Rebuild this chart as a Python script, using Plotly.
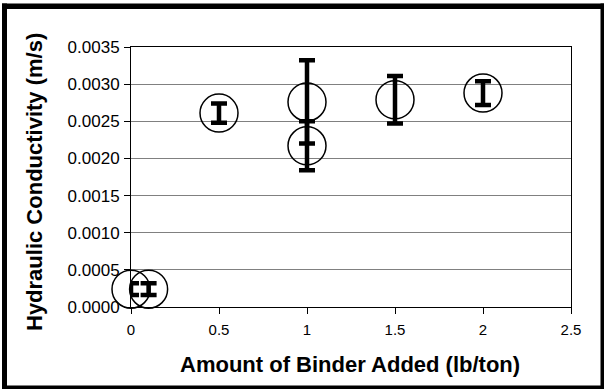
import plotly.graph_objects as go

# Data
binder = [0, 0.1, 0.5, 1, 1, 1.5, 2]
conductivity = [0.00024, 0.00024, 0.00261, 0.00276, 0.00217, 0.00279, 0.00288]
conductivity_err = [0.00008, 0.00008, 0.00013, 0.00056, 0.00033, 0.00032, 0.00016]
x_ticks = [0, 0.5, 1, 1.5, 2, 2.5]
x_tick_labels = ["0", "0.5", "1", "1.5", "2", "2.5"]
y_ticks = [0, 0.0005, 0.001, 0.0015, 0.002, 0.0025, 0.003, 0.0035]
y_tick_labels = ["0.0000", "0.0005", "0.0010", "0.0015", "0.0020", "0.0025", "0.0030", "0.0035"]

W, H = 605, 389
L, R, T, B = 131, 34, 47, 82
PW, PH = W - L - R, H - T - B


def px(x):
    return (x - L) / PW


def py(y):
    return (H - B - y) / PH


FONT = "Liberation Sans, Arial, sans-serif"

fig = go.Figure()
fig.add_trace(go.Scatter(
    x=binder, y=conductivity, mode="markers",
    marker=dict(symbol="circle-open", size=38, color="black", line=dict(width=1.5, color="black")),
    error_y=dict(type="data", array=conductivity_err, visible=True, color="black", thickness=4.5, width=8),
    cliponaxis=False, showlegend=False,
))

shapes = []
for (x0, x1, y0, y1) in [(2, 604, 3.5, 9), (2, 7, 3.5, 389), (600.5, 604, 3.5, 389), (2, 604, 385.5, 389)]:
    shapes.append(dict(type="rect", xref="paper", yref="paper", x0=px(x0), x1=px(x1), y0=py(y1), y1=py(y0),
                       fillcolor="black", line=dict(width=0), layer="above"))

fig.update_layout(
    width=W, height=H,
    margin=dict(l=L, r=R, t=T, b=B),
    paper_bgcolor="white", plot_bgcolor="white",
    font=dict(family=FONT, color="black"),
    shapes=shapes,
    annotations=[
        dict(text="Amount of Binder Added (lb/ton)", xref="paper", yref="paper", x=px(350), y=py(364),
             xanchor="center", yanchor="middle", showarrow=False,
             font=dict(family=FONT, size=22, weight="bold", color="black")),
        dict(text="Hydraulic Conductivity (m/s)", xref="paper", yref="paper", x=px(35), y=py(182),
             xanchor="center", yanchor="middle", showarrow=False, textangle=-90,
             font=dict(family=FONT, size=22, weight="bold", color="black")),
    ],
    xaxis=dict(range=[0, 2.5], tickvals=x_ticks, ticktext=x_tick_labels, showgrid=False, zeroline=False,
               showline=True, linecolor="black", linewidth=1, mirror=True,
               ticks="outside", ticklen=6, tickcolor="black", tickwidth=1,
               tickfont=dict(family=FONT, size=15, color="black"), ticklabelstandoff=3),
    yaxis=dict(range=[0, 0.0035], tickvals=y_ticks, ticktext=y_tick_labels, showgrid=True, gridcolor="#808080",
               gridwidth=1, zeroline=False, showline=True, linecolor="black", linewidth=1, mirror=True,
               ticks="outside", ticklen=6, tickcolor="black", tickwidth=1,
               tickfont=dict(family=FONT, size=17, color="black"), ticklabelstandoff=1),
)

fig.write_html("out.html")
